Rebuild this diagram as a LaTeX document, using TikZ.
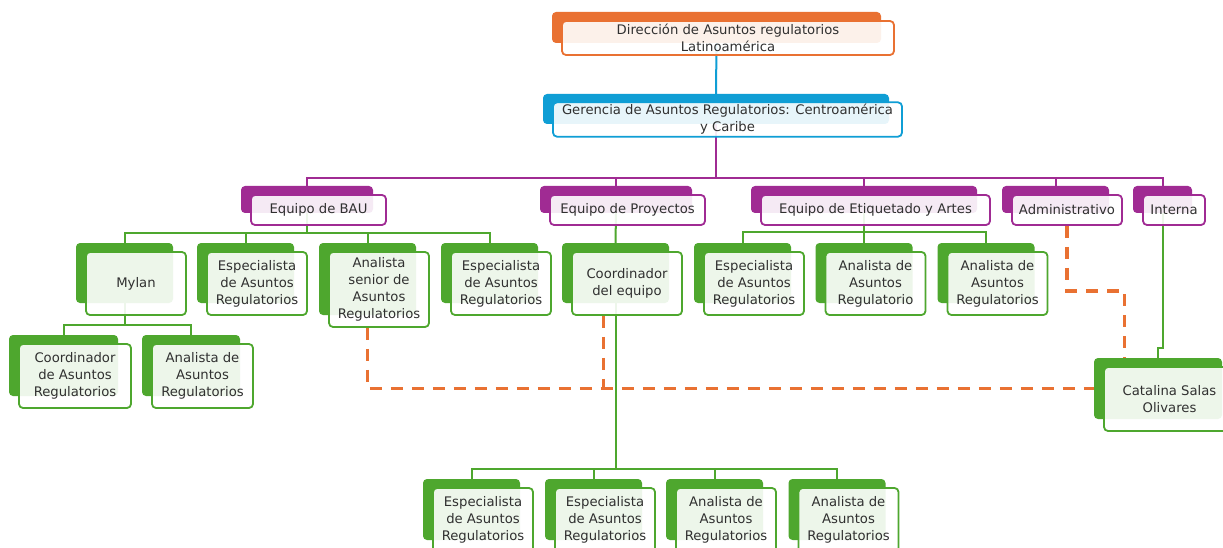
\documentclass[tikz,border=0pt]{standalone}
\usepackage{fontspec}
\setmainfont{DejaVu Sans}
\usepackage{tikz}
\usetikzlibrary{positioning, backgrounds}

\definecolor{orgorange}{HTML}{E97132}
\definecolor{orgblue}{HTML}{0F9ED5}
\definecolor{orgpurple}{HTML}{A02B93}
\definecolor{orggreen}{HTML}{4EA72E}
\definecolor{orgtext}{HTML}{303030}

% coloured card behind, white card with the text in front
% #1 name, #2 colour, #3 centre of the back card, #4 width, #5 height, #6 text
\newcommand{\orgbox}[6]{%
  \node[backbox=#2, minimum width=#4, minimum height=#5] (#1-b) at (#3) {};
  \node[frontbox=#2, minimum width=#4+3, minimum height=#5+3] (#1) at ([shift={(11.5,10.5)}]#1-b.center) {#6};
}

\begin{document}
\begin{tikzpicture}[
    x=1pt, y=-1pt,
    backbox/.style={rectangle, fill=#1, rounded corners=4pt, inner sep=0pt},
    frontbox/.style={rectangle, draw=#1, line width=1.8pt, fill=white, fill opacity=0.9, text opacity=1,
        rounded corners=4pt, inner sep=2pt, align=center, text=orgtext, font=\fontsize{13.2}{17}\selectfont},
    orgline/.style={draw=#1, line width=2pt},
    dashline/.style={draw=orgorange, line width=3.2pt, dash pattern=on 12pt off 9pt}
]
\useasboundingbox (0,0) rectangle (1223,548);

% Top of the chart
\orgbox{dir}{orgorange}{716.5,27.5}{329}{31}{Dirección de Asuntos regulatorios\\Latinoamérica}
\orgbox{ger}{orgblue}{716,109}{346}{30}{Gerencia de Asuntos Regulatorios: Centroamérica\\y Caribe}

% Teams
\orgbox{bau}{orgpurple}{307,199.5}{132}{27}{Equipo de BAU}
\orgbox{proy}{orgpurple}{616,199.5}{152}{27}{Equipo de Proyectos}
\orgbox{etiq}{orgpurple}{864,199.5}{226}{27}{Equipo de Etiquetado y Artes}
\orgbox{adm}{orgpurple}{1055.5,199.5}{107}{27}{Administrativo}
\orgbox{int}{orgpurple}{1162.5,199.5}{59}{27}{Interna}

% People of each team
\orgbox{mylan}{orggreen}{124.5,273}{97}{60}{Mylan}
\orgbox{esp1}{orggreen}{245.5,273}{97}{60}{Especialista\\de Asuntos\\Regulatorios}
\orgbox{anas}{orggreen}{367.5,279}{97}{72}{Analista\\senior de\\Asuntos\\Regulatorios}
\orgbox{esp2}{orggreen}{489.5,273}{97}{60}{Especialista\\de Asuntos\\Regulatorios}
\orgbox{coord}{orggreen}{615.5,273}{107}{60}{Coordinador\\del equipo}
\orgbox{esp3}{orggreen}{742.5,273}{97}{60}{Especialista\\de Asuntos\\Regulatorios}
\orgbox{ana1}{orggreen}{864,273}{97}{60}{Analista de\\Asuntos\\Regulatorio}
\orgbox{ana2}{orggreen}{986,273}{97}{60}{Analista de\\Asuntos\\Regulatorios}

% Under Mylan
\orgbox{coorar}{orggreen}{63.5,365.5}{109}{61}{Coordinador\\de Asuntos\\Regulatorios}
\orgbox{ana3}{orggreen}{191,365.5}{98}{61}{Analista de\\Asuntos\\Regulatorios}

% Intern
\orgbox{cat}{orggreen}{1158,388.5}{128}{61}{Catalina Salas\\Olivares}

% Under the project coordinator
\orgbox{esp4}{orggreen}{471.5,509.5}{97}{61}{Especialista\\de Asuntos\\Regulatorios}
\orgbox{esp5}{orggreen}{593.5,509.5}{97}{61}{Especialista\\de Asuntos\\Regulatorios}
\orgbox{ana4}{orggreen}{714.5,509.5}{97}{61}{Analista de\\Asuntos\\Regulatorios}
\orgbox{ana5}{orggreen}{837,509.5}{97}{61}{Analista de\\Asuntos\\Regulatorios}

\begin{pgfonlayer}{background}
\fill[white] (0,0) rectangle (1223,548);

% Reporting lines
\draw[orgline=orgblue] (dir-b.south) -- (ger-b.north);
\foreach \t in {bau, proy, etiq, adm, int}
    \draw[orgline=orgpurple] (ger-b.south) -- ++(0,54) -| (\t-b.north);
\foreach \c in {mylan, esp1, anas, esp2}
    \draw[orgline=orggreen] (bau-b.south) -- ++(0,20) -| (\c-b.north);
\draw[orgline=orggreen] (proy-b.south) -- (coord-b.north);
\foreach \c in {esp3, ana1, ana2}
    \draw[orgline=orggreen] (etiq-b.south) -- ++(0,19) -| (\c-b.north);
\foreach \c in {coorar, ana3}
    \draw[orgline=orggreen] (mylan-b.south) -- ++(0,22) -| (\c-b.north);
\foreach \c in {esp4, esp5, ana4, ana5}
    \draw[orgline=orggreen] (coord-b.south) -- ++(0,166) -| (\c-b.north);
\draw[orgline=orggreen] (int-b.south) -- ++(0,135) -| (cat-b.north);

% Dashed lines to the intern
\draw[dashline] (adm.south) -- ++(0,65) -| ([xshift=31pt]cat-b.north west);
\draw[dashline] (anas-b.south |- anas.south) |- (cat-b.west);
\draw[dashline] ([xshift=-12pt]coord-b.south |- coord.south) -- ([xshift=-12pt]coord-b.south |- cat-b.west);
\end{pgfonlayer}

\end{tikzpicture}
\end{document}
